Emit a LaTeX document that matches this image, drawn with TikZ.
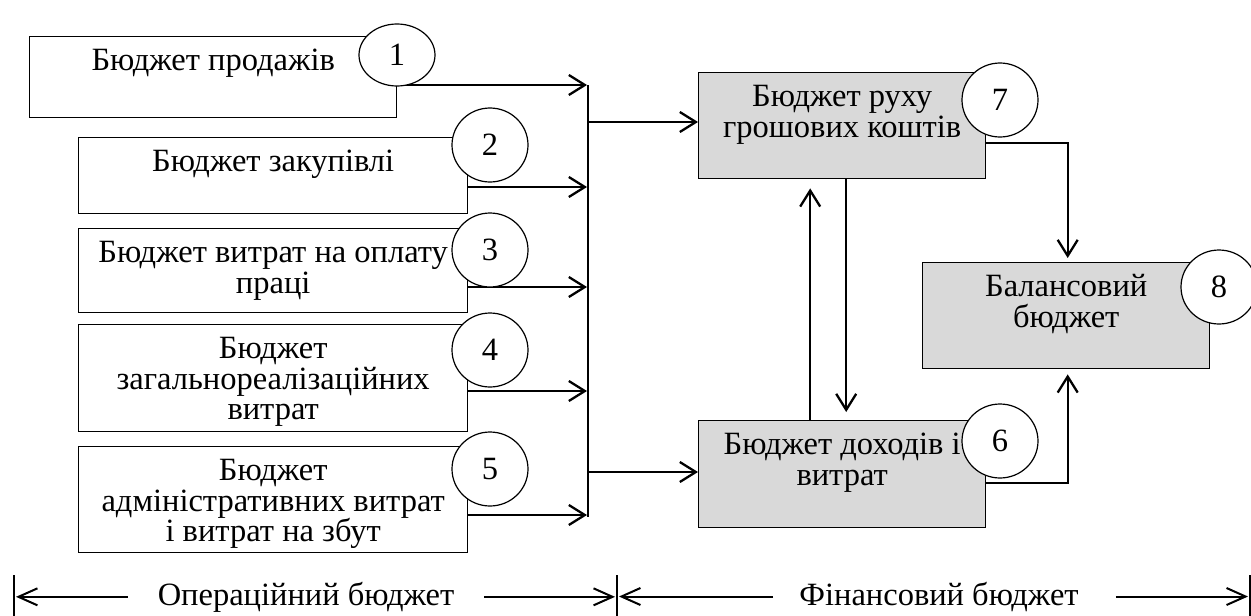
\documentclass[tikz,border=0pt]{standalone}
\usepackage{fontspec}
\setmainfont{Liberation Serif}
\usetikzlibrary{arrows.meta,shapes.geometric}

\definecolor{finfill}{HTML}{D9D9D9}

% box contents: fixed width and height, text starting at the top
\newcommand{\boxlines}[3]{\parbox[c][#2][t]{#1}{\centering\lineskiplimit=-100pt\rule{0pt}{34pt}#3\par}}

\tikzset{
  box/.style={draw, line width=1.4pt, inner sep=0pt, fill=white, anchor=north west},
  finbox/.style={box, fill=finfill},
  num/.style={ellipse, draw, fill=white, line width=1.2pt, inner sep=0pt,
              minimum width=76pt, minimum height=74pt},
  flow/.style={line width=2.3pt, -{Straight Barb[length=16pt,width=20pt]}},
  busline/.style={line width=2.3pt},
  dim/.style={line width=2pt, -{Straight Barb[length=19pt,width=17pt]}},
  barline/.style={line width=2pt},
  caption/.style={inner sep=0pt, anchor=base}
}

\begin{document}
\begin{tikzpicture}[x=1pt, y=1pt, font=\fontsize{32.5}{30.5}\selectfont]
\useasboundingbox (0,0) rectangle (1251,-616);

% operating budgets
\node[box] (b1) at (29,-36)  {\boxlines{367pt}{81pt}{Бюджет продажів}};
\node[box] (b2) at (78,-137) {\boxlines{389pt}{76pt}{Бюджет закупівлі}};
\node[box] (b3) at (78,-228) {\boxlines{389pt}{84pt}{Бюджет витрат на оплату\\праці}};
\node[box] (b4) at (78,-324) {\boxlines{389pt}{107pt}{Бюджет\\загальнореалізаційних\\витрат}};
\node[box] (b5) at (78,-446) {\boxlines{389pt}{106pt}{Бюджет\\адміністративних витрат\\і витрат на збут}};

% financial budgets
\node[finbox] (b7) at (698,-72)  {\boxlines{287pt}{106pt}{Бюджет руху\\грошових коштів}};
\node[finbox] (b6) at (698,-420) {\boxlines{287pt}{107pt}{Бюджет доходів і\\витрат}};
\node[finbox] (b8) at (922,-262) {\boxlines{287pt}{106pt}{Балансовий\\бюджет}};

% collecting bus
\coordinate (bustop) at (588,-85);
\coordinate (busbot) at (588,-517);
\draw[busline] (bustop) -- (busbot);

\coordinate (o1) at ([yshift=-49pt]b1.north east);
\coordinate (o2) at ([yshift=-50pt]b2.north east);
\coordinate (o3) at ([yshift=-59pt]b3.north east);
\coordinate (o4) at ([yshift=-67pt]b4.north east);
\coordinate (o5) at ([yshift=-69pt]b5.north east);
\foreach \o in {o1,o2,o3,o4,o5}
  \draw[flow, shorten >=1pt] (\o) -- (\o -| bustop);

\coordinate (i7) at ([yshift=-50pt]b7.north west);
\coordinate (i6) at ([yshift=-52pt]b6.north west);
\draw[flow] (i7 -| bustop) -- (i7);
\draw[flow] (i6 -| bustop) -- (i6);

% links between financial budgets
\draw[flow] ([xshift=-32pt]b6.north) -- ([xshift=-32pt,yshift=-9pt]b7.south);
\draw[flow] ([xshift=4pt]b7.south) -- ([xshift=4pt,yshift=8pt]b6.north);
\draw[flow] ([yshift=-71pt]b7.north east) -| ([xshift=1.5pt,yshift=4pt]b8.north);
\draw[flow] ([yshift=-63pt]b6.north east) -| ([xshift=1.5pt,yshift=-5pt]b8.south);

% numbers
\node[num, minimum height=62pt] (n1) at (397,-55) {1};
\node[num] (n2) at (490,-145) {2};
\node[num] (n3) at (490,-250) {3};
\node[num] (n4) at (490,-350) {4};
\node[num] (n5) at (490,-469) {5};
\node[num] (n7) at (1000,-100) {7};
\node[num] (n6) at (1000,-441) {6};
\node[num] (n8) at (1219,-287) {8};

% budget ranges
\node[caption] (op)  at (306,-605) {Операційний бюджет};
\node[caption] (fin) at (939,-605) {Фінансовий бюджет};
\coordinate (barL) at (14,-596);
\coordinate (barM) at (617,-596);
\coordinate (barR) at (1250,-596);
\foreach \b in {barL,barM,barR}
  \draw[barline] ([yshift=21pt]\b) -- ([yshift=-25pt]\b);
\draw[dim, shorten >=2pt] ([xshift=-30pt]op.west) -- (op.west -| barL);
\draw[dim, shorten >=2pt] ([xshift=30pt]op.east) -- (op.east -| barM);
\draw[dim, shorten >=2pt] ([xshift=-26pt]fin.west) -- (fin.west -| barM);
\draw[dim, shorten >=2pt] ([xshift=37pt]fin.east) -- (fin.east -| barR);
\end{tikzpicture}
\end{document}
